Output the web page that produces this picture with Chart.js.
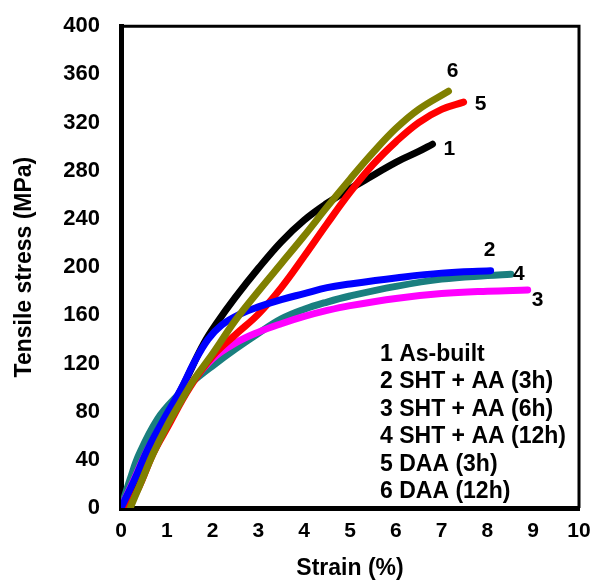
<!DOCTYPE html>
<html>
<head>
<meta charset="utf-8">
<script src="https://cdn.jsdelivr.net/npm/chart.js@4"></script>
<style>
  body { margin: 0; background: #fff; }
  #wrap { width: 597px; height: 582px; }
</style>
</head>
<body>
<div id="wrap"><canvas id="myChart"></canvas></div>
<script>
const names = ["As-built", "SHT + AA (3h)", "SHT + AA (6h)", "SHT + AA (12h)", "DAA (3h)", "DAA (12h)"];

const asBuiltStrain = [0, 0.3, 0.6, 1, 1.4, 1.8, 2.1, 2.5, 3, 3.5, 4, 4.5, 5, 5.5, 6, 6.5, 6.8];
const asBuiltStress = [0, 22, 47, 75, 105, 136, 154, 175, 199, 221, 239, 253, 265, 276, 287, 296, 302];

const sht3Strain = [0, 0.3, 0.6, 1, 1.3, 1.6, 1.9, 2.2, 2.6, 3, 3.5, 4, 4.5, 5, 6, 7, 8.07];
const sht3Stress = [0, 24, 50, 78, 98, 121, 140, 152, 161, 167, 173, 178, 183, 186, 191, 195, 197];

const sht6Strain = [0, 0.3, 0.6, 1, 1.5, 2, 2.5, 3, 3.5, 4, 4.5, 5, 6, 7, 8, 8.88];
const sht6Stress = [0, 25, 50, 76, 102, 124, 137, 146, 153, 159, 164, 168, 174, 178, 180, 181];

const sht12Strain = [0, 0.2, 0.4, 0.8, 1.2, 1.6, 2, 2.5, 3, 3.5, 4, 4.5, 5, 6, 7, 8, 8.51];
const sht12Stress = [0, 24, 45, 74, 92, 106, 118, 132, 145, 157, 165, 171, 176, 184, 190, 193, 194];

const daa3Strain = [0.15, 0.4, 0.7, 1, 1.5, 2, 2.5, 3, 3.5, 4, 4.5, 5, 5.5, 6, 6.5, 7, 7.48];
const daa3Stress = [0, 18, 45, 66, 100, 126, 144, 161, 183, 209, 236, 262, 285, 304, 320, 331, 337];

const daa12Strain = [0.2, 0.4, 0.7, 1, 1.3, 1.6, 2, 2.5, 3, 3.5, 4, 4.5, 5, 5.5, 6, 6.5, 7.15];
const daa12Stress = [0, 18, 45, 68, 88, 107, 128, 156, 180, 203, 226, 250, 273, 295, 315, 331, 346];

const series = [
  { strain: asBuiltStrain, stress: asBuiltStress, color: "#000000", order: 6 },
  { strain: sht3Strain, stress: sht3Stress, color: "#0000ff", order: 2 },
  { strain: sht6Strain, stress: sht6Stress, color: "#ff00ff", order: 4 },
  { strain: sht12Strain, stress: sht12Stress, color: "#1a7f7f", order: 5 },
  { strain: daa3Strain, stress: daa3Stress, color: "#ff0000", order: 3 },
  { strain: daa12Strain, stress: daa12Stress, color: "#808000", order: 1 },
];

// offsets of the curve numbers from each curve end
const endDx = [17, -1, 10, 8, 17, 4];
const endDy = [5, -21, 10, 0, 2, -20];

const fontFamily = '"Liberation Sans", Arial, sans-serif';

const annotate = {
  id: "annotate",
  afterDatasetsDraw(chart) {
    const { ctx, chartArea: a, scales: { x, y } } = chart;
    ctx.save();
    // thin top and right frame
    ctx.strokeStyle = "#000";
    ctx.lineWidth = 3;
    ctx.beginPath();
    ctx.moveTo(a.left, a.top);
    ctx.lineTo(a.right, a.top);
    ctx.lineTo(a.right, a.bottom);
    ctx.stroke();

    ctx.fillStyle = "#000";
    ctx.font = "bold 21px " + fontFamily;
    ctx.textAlign = "center";
    ctx.textBaseline = "middle";
    series.forEach((s, i) => {
      const n = s.strain.length - 1;
      const px = x.getPixelForValue(s.strain[n]) + endDx[i];
      const py = y.getPixelForValue(s.stress[n]) + endDy[i];
      ctx.fillText(String(i + 1), px, py);
    });

    ctx.font = "bold 23px " + fontFamily;
    ctx.textAlign = "left";
    names.forEach((nm, i) => {
      ctx.fillText(i + 1 + " " + nm, a.left + 259, a.top + 328 + i * 27.5);
    });
    ctx.restore();
  },
};

const ctx = document.getElementById("myChart");
new Chart(ctx, {
  type: "line",
  data: {
    datasets: series.map((s, i) => ({
      label: names[i],
      data: s.strain.map((v, j) => ({ x: v, y: s.stress[j] })),
      borderColor: s.color,
      backgroundColor: s.color,
      borderWidth: 7,
      borderCapStyle: "round",
      borderJoinStyle: "round",
      pointRadius: 0,
      tension: 0.4,
      order: s.order,
    })),
  },
  options: {
    responsive: true,
    maintainAspectRatio: false,
    animation: false,
    layout: { padding: { top: 22, right: 18, left: 0, bottom: 0 } },
    plugins: {
      legend: { display: false },
      tooltip: { enabled: false },
    },
    scales: {
      x: {
        type: "linear",
        min: 0,
        max: 10,
        grid: { display: false },
        border: { display: true, width: 5, color: "#000" },
        ticks: {
          stepSize: 1,
          padding: 3,
          color: "#000",
          font: { family: fontFamily, size: 21, weight: "bold" },
        },
        title: {
          display: true,
          text: "Strain (%)",
          color: "#000",
          padding: { top: 0, bottom: 0 },
          font: { family: fontFamily, size: 23, weight: "bold" },
        },
        afterFit(scale) {
          scale.height = 74;
        },
      },
      y: {
        type: "linear",
        min: 0,
        max: 400,
        grid: { display: false },
        border: { display: true, width: 5, color: "#000" },
        ticks: {
          stepSize: 40,
          padding: 13,
          color: "#000",
          font: { family: fontFamily, size: 22, weight: "bold" },
        },
        title: {
          display: true,
          text: "Tensile stress (MPa)",
          color: "#000",
          padding: { top: 11, bottom: 0 },
          font: { family: fontFamily, size: 23, weight: "bold" },
        },
        afterFit(scale) {
          scale.width = 121;
        },
      },
    },
  },
  plugins: [annotate],
});
</script>
</body>
</html>
